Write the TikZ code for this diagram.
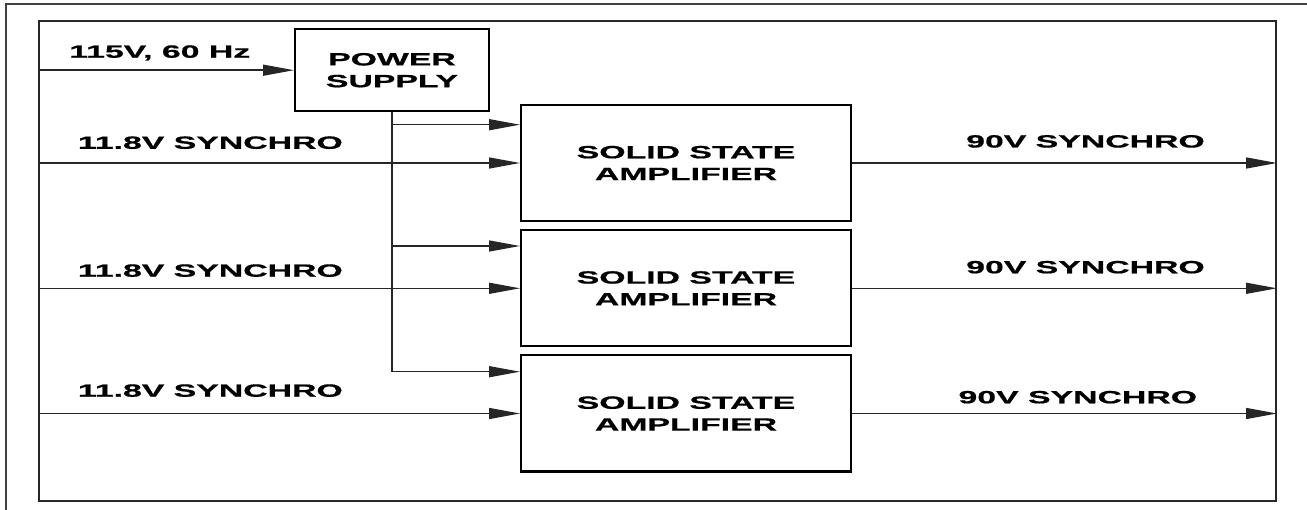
\documentclass[tikz,border=0pt]{standalone}
\usepackage{fontspec}
\usetikzlibrary{arrows.meta}
\newfontfamily\lblfontfam[FakeStretch=1.91,FakeBold=0.8]{Liberation Sans Bold}
\newcommand\lblf{\lblfontfam\fontsize{17.7}{21.8}\selectfont}
\begin{document}
\begin{tikzpicture}[x=1pt,y=-1pt,
  blockbox/.style={draw=black, line width=2pt, inner sep=0pt, align=center, font=\lblf},
  framebox/.style={draw=black!85, line width=2pt, inner sep=0pt},
  wire/.style={draw=black!85, line width=1.4pt},
  conn/.style={wire, -{Triangle[length=31pt,width=11pt]}},
  lbl/.style={font=\lblf, inner sep=0pt, anchor=base west}]
\useasboundingbox (0,0) rectangle (1307,510);
% outer frame edges
\draw[black!75, line width=2pt] (5.7,510) -- (5.7,4) -- (1307,4);
% inner frame
\node[framebox, minimum width=1237pt, minimum height=480pt] (fr) at (657.5,261) {};
% blocks
\node[blockbox, minimum width=194pt, minimum height=82pt] (ps) at (392,70.2) {POWER\\SUPPLY};
\node[blockbox, minimum width=330pt, minimum height=116pt] (a1) at (686,163) {SOLID STATE\\AMPLIFIER};
\node[blockbox, minimum width=330pt, minimum height=116pt] (a2) at (686,288.3) {SOLID STATE\\AMPLIFIER};
\node[blockbox, minimum width=330pt, minimum height=116pt] (a3) at (686,413.5) {SOLID STATE\\AMPLIFIER};
% power input
\draw[conn] (fr.west |- ps.west) -- (ps.west);
\node[lbl] (l115) at (69,57.7) {115V, 60 Hz};
% power distribution
\coordinate (p1) at (392,124.7);
\coordinate (p2) at (392,246);
\coordinate (p3) at (392,371.7);
\draw[conn] (ps.south) |- (p3 -| a3.west);
\draw[conn] (p1) -- (p1 -| a1.west);
\draw[conn] (p2) -- (p2 -| a2.west);
% synchro inputs
\draw[conn] (fr.west |- a1.west) -- (a1.west);
\draw[conn] (fr.west |- a2.west) -- (a2.west);
\draw[conn] (fr.west |- a3.west) -- (a3.west);
\node[lbl] (i1) at (77.7,148.8) {11.8V SYNCHRO};
\node[lbl] (i2) at (77.7,276.7) {11.8V SYNCHRO};
\node[lbl] (i3) at (77.7,396.7) {11.8V SYNCHRO};
% synchro outputs
\draw[conn] (a1.east) -- (a1.east -| fr.east);
\draw[conn] (a2.east) -- (a2.east -| fr.east);
\draw[conn] (a3.east) -- (a3.east -| fr.east);
\node[lbl] (o1) at (966,147.5) {90V SYNCHRO};
\node[lbl] (o2) at (966,273.3) {90V SYNCHRO};
\node[lbl] (o3) at (958.3,403.3) {90V SYNCHRO};
\end{tikzpicture}
\end{document}
